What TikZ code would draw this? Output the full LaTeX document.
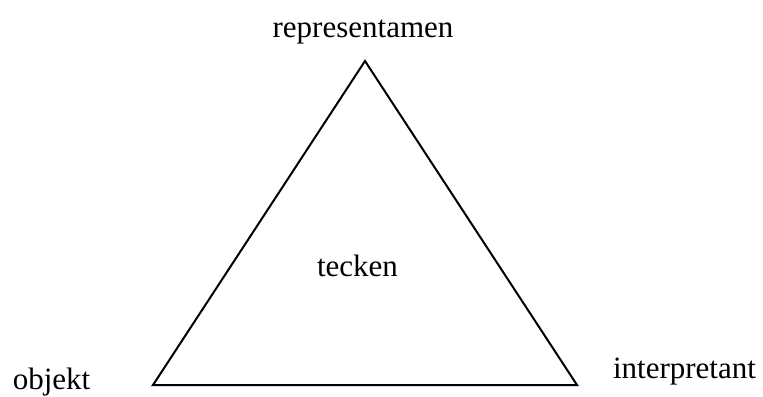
\documentclass[tikz,border=0pt]{standalone}
\usepackage{fontspec}
\setmainfont{Liberation Serif}
\begin{document}
\begin{tikzpicture}[x=0.5pt,y=-0.5pt,
  lbl/.style={inner sep=0pt, anchor=base, font=\fontsize{15.5}{18}\selectfont},
  edge/.style={line width=1pt, line join=miter}]
\useasboundingbox (0,0) rectangle (763,396);
\coordinate (R) at (365,61);
\coordinate (O) at (153,385);
\coordinate (I) at (577,385);
\draw[edge] (R) -- (O) -- (I) -- cycle;
\node[lbl] (rep) at (363,37) {representamen};
\node[lbl] (tec) at (357.5,276.5) {tecken};
\node[lbl] (obj) at (51.5,389) {objekt};
\node[lbl] (int) at (684.5,378) {interpretant};
\end{tikzpicture}
\end{document}
